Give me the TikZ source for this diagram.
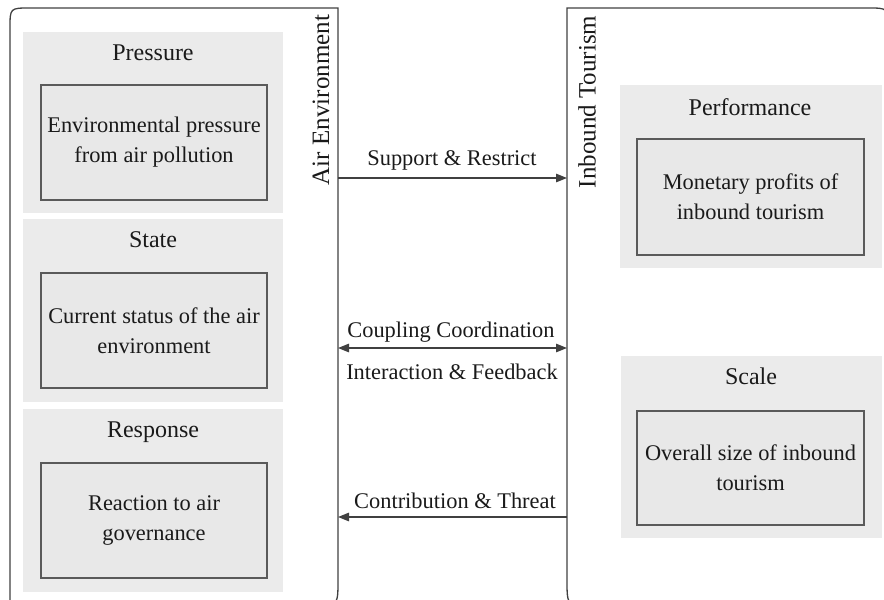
\documentclass[tikz,border=0pt]{standalone}
\usepackage{fontspec}
\setmainfont{Liberation Serif}
\usetikzlibrary{arrows.meta}
\definecolor{panelgray}{HTML}{EBEBEB}
\definecolor{boxgray}{HTML}{E8E8E8}
\definecolor{edgegray}{HTML}{5A5A5A}
\definecolor{linegray}{HTML}{404040}
\definecolor{ink}{HTML}{1A1A1A}

\begin{document}
\begin{tikzpicture}[x=1pt,y=-1pt,
  every node/.style={font=\fontsize{22.4}{30}\selectfont, text=ink, outer sep=0pt, inner sep=0pt},
  panel/.style={fill=panelgray, draw=none, anchor=north west},
  itembox/.style={fill=boxgray, draw=edgegray, line width=1.6pt, anchor=north west, align=center},
  heading/.style={anchor=base, font=\fontsize{24}{30}\selectfont},
  sidelabel/.style={rotate=90, font=\fontsize{25}{30}\selectfont},
  container/.style={draw=linegray, line width=1.3pt},
  frame/.style={anchor=north west, draw=none},
  link/.style={draw=linegray, line width=1.3pt},
  tip/.style={-{Triangle[length=11pt,width=8.5pt]}},
  twotips/.style={{Triangle[length=11pt,width=8.5pt]}-{Triangle[length=11pt,width=8.5pt]}},
]
\useasboundingbox (0,0) rectangle (884,600);

% outer containers (they run past the lower and right edges)
\begin{scope}
  \clip (0,0) rectangle (884,600);
  \draw[container] (10,606) -- (10,28) .. controls (10,8) .. (30,8) -- (338,8)
        -- (338,580) .. controls (338,606) .. (312,606) -- cycle;
  \draw[container] (567,580) -- (567,8) -- (868,8) .. controls (888,8) .. (888,28)
        -- (888,606) -- (593,606) .. controls (567,606) .. (567,580);
\end{scope}
\node[frame, minimum width=328, minimum height=598] (air) at (10,8) {};
\node[frame, minimum width=321, minimum height=598] (tour) at (567,8) {};

\node[sidelabel] (airlbl) at (321,100) {Air Environment};
\node[sidelabel] (tourlbl) at (587,102) {Inbound Tourism};

% left column: pressure, state, response
\node[panel, minimum width=260, minimum height=181] (ppanel) at (23,32) {};
\node[panel, minimum width=260, minimum height=183] (spanel) at (23,219) {};
\node[panel, minimum width=260, minimum height=183] (rpanel) at (23,409) {};

\node[heading] (ptitle) at (153,60) {Pressure};
\node[heading] (stitle) at (153,247) {State};
\node[heading] (rtitle) at (153,437) {Response};

\node[itembox, minimum width=226, minimum height=115] (pbox) at (41,85)
  {Environmental pressure\\from air pollution};
\node[itembox, minimum width=226, minimum height=115] (sbox) at (41,273)
  {Current status of the air\\environment};
\node[itembox, minimum width=226, minimum height=115] (rbox) at (41,463)
  {Reaction to air\\governance};

% right column: performance, scale
\node[panel, minimum width=262, minimum height=183] (fpanel) at (620,85) {};
\node[panel, minimum width=261, minimum height=182] (cpanel) at (621,356) {};

\node[heading] (ftitle) at (750,115) {Performance};
\node[heading] (ctitle) at (751,384) {Scale};

\node[itembox, minimum width=227, minimum height=116] (fbox) at (637,139)
  {Monetary profits of\\inbound tourism};
\node[itembox, minimum width=227, minimum height=114] (cbox) at (637,411)
  {Overall size of inbound\\tourism};

% links between the two systems
\draw[link, tip] (air.east |- 0,178) -- (tour.west |- 0,178);
\draw[link, twotips] (air.east |- 0,348) -- (tour.west |- 0,348);
\draw[link, tip] (tour.west |- 0,517) -- (air.east |- 0,517);

\node (lsupport) at (452,160) {Support \& Restrict};
\node (lcoupling) at (451,332) {Coupling Coordination};
\node (linteract) at (452,372) {Interaction \& Feedback};
\node (lcontrib) at (455,501) {Contribution \& Threat};
\end{tikzpicture}
\end{document}
